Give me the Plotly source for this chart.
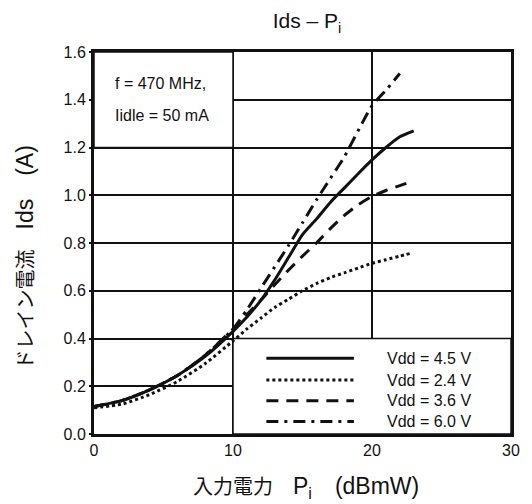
import plotly.graph_objects as go

# ---- data ----
pin_45 = [0, 2, 4, 6, 8, 10, 11, 12, 13, 14, 15, 16, 17, 18, 19, 20, 21, 22, 23]
ids_45 = [0.115, 0.14, 0.185, 0.245, 0.325, 0.43, 0.49, 0.56, 0.645, 0.74, 0.835, 0.9, 0.97, 1.03, 1.09, 1.148, 1.2, 1.245, 1.27]

pin_24 = [0, 2, 4, 6, 8, 10, 11, 12, 13, 14, 15, 16, 17, 18, 19, 20, 21, 22, 22.8]
ids_24 = [0.11, 0.125, 0.165, 0.22, 0.295, 0.39, 0.44, 0.485, 0.53, 0.565, 0.6, 0.63, 0.655, 0.675, 0.695, 0.715, 0.73, 0.745, 0.757]

pin_36 = [0, 2, 4, 6, 8, 10, 11, 12, 13, 14, 15, 16, 17, 18, 19, 20, 21, 22, 22.7]
ids_36 = [0.115, 0.14, 0.185, 0.245, 0.33, 0.44, 0.5, 0.56, 0.625, 0.687, 0.745, 0.8, 0.86, 0.915, 0.96, 0.995, 1.02, 1.04, 1.055]

pin_60 = [0, 2, 4, 6, 8, 10, 11, 12, 13, 14, 15, 16, 17, 18, 19, 20, 21, 22]
ids_60 = [0.115, 0.14, 0.185, 0.245, 0.33, 0.44, 0.52, 0.61, 0.70, 0.79, 0.885, 0.98, 1.07, 1.16, 1.27, 1.375, 1.44, 1.51]

series_names = ["Vdd = 4.5 V", "Vdd = 2.4 V", "Vdd = 3.6 V", "Vdd = 6.0 V"]
series_dash = ["solid", "3px,3px", "12px,8px", "12px,6px,3px,6px"]
legend_rows_y = [0.317, 0.226, 0.139, 0.052]

x_ticks = [0, 10, 20, 30]
y_ticks = [0.0, 0.2, 0.4, 0.6, 0.8, 1.0, 1.2, 1.4, 1.6]

FONT = "Liberation Sans, Arial, Noto Sans CJK JP, sans-serif"
INK = "#111111"

# The page body adds an 8px offset, so the figure is drawn 8px smaller
OFF = 8
W, H = 532 - OFF, 504 - OFF
PL = 94 - OFF
PT = 52 - OFF
PR = W - (520 - OFF)
PB = H - (434 - OFF)
PH = H - PT - PB
PW = W - PL - PR

fig = go.Figure()
all_x = [pin_45, pin_24, pin_36, pin_60]
all_y = [ids_45, ids_24, ids_36, ids_60]
for xs, ys, name, dash in zip(all_x, all_y, series_names, series_dash):
    fig.add_trace(go.Scatter(x=xs, y=ys, mode="lines", name=name,
                             line=dict(color=INK, width=3, dash=dash, shape="spline", smoothing=0.6),
                             showlegend=False))

shapes = [
    # condition box (top-left) and legend box (bottom-right)
    dict(type="rect", xref="x", yref="y", x0=0, x1=10, y0=1.2, y1=1.6,
         fillcolor="white", line=dict(color=INK, width=1.5), layer="between"),
    dict(type="rect", xref="x", yref="y", x0=10, x1=30, y0=0, y1=0.4,
         fillcolor="white", line=dict(color=INK, width=1.5), layer="between"),
]
annotations = []
for name, dash, ly in zip(series_names, series_dash, legend_rows_y):
    shapes.append(dict(type="line", xref="x", yref="y", x0=12.4, x1=18.7, y0=ly, y1=ly,
                       line=dict(color=INK, width=3, dash=dash), layer="above"))
    annotations.append(dict(x=20.96, y=ly, xref="x", yref="y", text=name, showarrow=False,
                            xanchor="left", yanchor="middle", font=dict(size=16, color=INK, family=FONT)))

LAT = '<span style="font-size:23px">'
annotations += [
    dict(x=1.36, y=1.470, xref="x", yref="y", text="f = 470 MHz,", showarrow=False,
         xanchor="left", yanchor="middle", font=dict(size=16, color=INK, family=FONT)),
    dict(x=1.36, y=1.336, xref="x", yref="y", text="Iidle = 50 mA", showarrow=False,
         xanchor="left", yanchor="middle", font=dict(size=16, color=INK, family=FONT)),
    # axis titles
    dict(x=(311 - 94) / PW, y=-(487 - 434) / PH, xref="paper", yref="paper",
         text="入力電力\u3000" + LAT + "P<sub>i</sub>\u2002\u2002(dBmW)</span>", showarrow=False,
         xanchor="center", yanchor="middle", font=dict(size=20, color=INK, family=FONT)),
    dict(x=(23 - 94) / PW, y=(434 - 258) / PH, xref="paper", yref="paper",
         text="ドレイン電流\u3000" + LAT + "Ids\u2002\u2002(A)</span>", showarrow=False, textangle=-90,
         xanchor="center", yanchor="middle", font=dict(size=20, color=INK, family=FONT)),
]

fig.update_layout(
    width=W, height=H,
    margin=dict(l=PL, r=PR, t=PT, b=PB),
    paper_bgcolor="white", plot_bgcolor="white",
    font=dict(family=FONT, size=16, color=INK),
    title=dict(text="Ids – P<sub>i</sub>", x=(307 - OFF) / W, xanchor="center",
               y=1 - (21 - OFF) / H, yanchor="middle", font=dict(size=21, family=FONT, color=INK)),
    shapes=shapes, annotations=annotations,
    xaxis=dict(range=[0, 30], tickvals=x_ticks, ticktext=[str(v) for v in x_ticks],
               showgrid=True, gridcolor=INK, gridwidth=1.5, zeroline=False,
               showline=True, linecolor=INK, linewidth=3, mirror=True,
               ticks="", tickfont=dict(size=16, family=FONT, color=INK)),
    yaxis=dict(range=[0, 1.6], tickvals=y_ticks, ticktext=[f"{v:.1f}" for v in y_ticks],
               showgrid=True, gridcolor=INK, gridwidth=1.5, zeroline=False,
               showline=True, linecolor=INK, linewidth=3, mirror=True,
               ticks="outside", ticklen=2, tickwidth=1.5, tickcolor=INK,
               tickfont=dict(size=16, family=FONT, color=INK)),
)

fig.write_html("out.html")
